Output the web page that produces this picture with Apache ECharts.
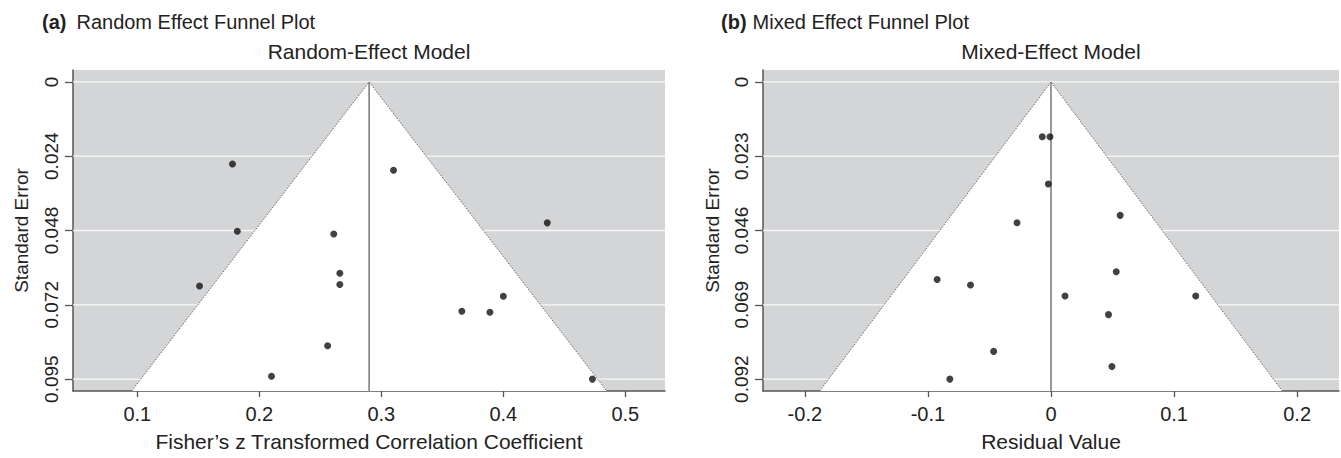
<!DOCTYPE html>
<html>
<head>
<meta charset="utf-8">
<script src="https://cdn.jsdelivr.net/npm/echarts@6/dist/echarts.min.js"></script>
<style>
html,body{margin:0;padding:0;background:#fff;}
#chart{width:1341px;height:458px;}
</style>
</head>
<body>
<div id="chart"></div>
<script>
// ---------- Data: (a) Random-effect model ----------
const reX  = [0.178, 0.182, 0.261, 0.151, 0.266, 0.266, 0.256, 0.210, 0.310, 0.436, 0.366, 0.389, 0.400, 0.473];
const reSE = [0.0264, 0.0480, 0.0489, 0.0656, 0.0615, 0.0651, 0.0848, 0.0946, 0.0284, 0.0453, 0.0737, 0.0740, 0.0689, 0.0955];
const reEstimate = 0.29;
const reXTicks  = [0.1, 0.2, 0.3, 0.4, 0.5];
const reXLabels = ['0.1', '0.2', '0.3', '0.4', '0.5'];
const reSeTicks  = [0, 0.023875, 0.04775, 0.071625, 0.0955];
const reSeLabels = ['0', '0.024', '0.048', '0.072', '0.095'];

// ---------- Data: (b) Mixed-effect model ----------
const meX  = [-0.0276, -0.0071, -0.0008, -0.0022, 0.0562, -0.0925, -0.0654, -0.0466, -0.0822, 0.0530, 0.0114, 0.1176, 0.0467, 0.0495];
const meSE = [0.0437, 0.0170, 0.0170, 0.0317, 0.0414, 0.0613, 0.0630, 0.0836, 0.0922, 0.0589, 0.0664, 0.0664, 0.0722, 0.0883];
const meEstimate = 0;
const meXTicks  = [-0.2, -0.1, 0, 0.1, 0.2];
const meXLabels = ['-0.2', '-0.1', '0', '0.1', '0.2'];
const meSeTicks  = [0, 0.02305, 0.0461, 0.06915, 0.0922];
const meSeLabels = ['0', '0.023', '0.046', '0.069', '0.092'];

const Z = 1.96;

// axis ranges (plot limits)
const reXRange = [0.0473, 0.5325];
const reYRange = [-0.00382, 0.09932];
const meXRange = [-0.234, 0.234];
const meYRange = [-0.003688, 0.095888];

const FONT = 'Liberation Sans, Arial, Helvetica, sans-serif';
const TXT = '#222';
const AX = '#555';

function labelFor(ticks, labels) {
  return function (v) {
    let best = 0, d = Infinity;
    ticks.forEach((t, i) => { const dd = Math.abs(t - v); if (dd < d) { d = dd; best = i; } });
    return labels[best];
  };
}

function xAxisCfg(grid, range, ticks, labels, name) {
  return {
    gridIndex: grid, type: 'value', min: range[0], max: range[1],
    axisLine: { show: true, onZero: false, lineStyle: { color: AX, width: 1.5 } },
    axisTick: { show: true, length: 6, customValues: ticks, lineStyle: { color: AX, width: 1.3 } },
    axisLabel: { show: true, customValues: ticks, formatter: labelFor(ticks, labels),
      fontSize: 20, fontFamily: FONT, color: TXT, margin: 13 },
    splitLine: { show: false },
    name: name, nameLocation: 'middle', nameGap: 40,
    nameTextStyle: { fontSize: 21, fontFamily: FONT, color: TXT }
  };
}

function yAxisCfg(grid, range, ticks, labels, margin, nameGap) {
  return {
    gridIndex: grid, type: 'value', min: range[0], max: range[1], inverse: true,
    axisLine: { show: true, onZero: false, lineStyle: { color: AX, width: 1.5 } },
    axisTick: { show: true, length: 8, customValues: ticks, lineStyle: { color: AX, width: 1.3 } },
    axisLabel: { show: true, customValues: ticks, formatter: labelFor(ticks, labels), rotate: 90,
      fontSize: 19, fontFamily: FONT, color: TXT, margin: margin },
    splitLine: { show: false },
    name: 'Standard Error', nameLocation: 'middle', nameGap: nameGap,
    nameTextStyle: { fontSize: 19, fontFamily: FONT, color: TXT }
  };
}

function funnelSeries(idx, est, xRange, yRange, seTicks) {
  return {
    type: 'custom', xAxisIndex: idx, yAxisIndex: idx, silent: true, z: 1,
    data: [[est, 0]],
    renderItem: function (params, api) {
      const children = [];
      seTicks.forEach(function (t) {
        const a = api.coord([xRange[0], t]), b = api.coord([xRange[1], t]);
        children.push({ type: 'line', shape: { x1: a[0], y1: a[1], x2: b[0], y2: b[1] },
          style: { stroke: '#f7f7f7', lineWidth: 1.3 } });
      });
      const seB = yRange[1];
      const pL = api.coord([est - Z * seB, seB]);
      const pT = api.coord([est, 0]);
      const pR = api.coord([est + Z * seB, seB]);
      children.push({ type: 'polygon', shape: { points: [pL, pT, pR] }, style: { fill: '#ffffff' } });
      children.push({ type: 'polyline', shape: { points: [pL, pT, pR] },
        style: { stroke: '#666', lineWidth: 1, lineDash: [1.5, 1.5], fill: null } });
      const vb = api.coord([est, seB]);
      children.push({ type: 'line', shape: { x1: pT[0], y1: pT[1], x2: vb[0], y2: vb[1] },
        style: { stroke: '#777', lineWidth: 1.5 } });
      return { type: 'group', children: children };
    }
  };
}

function pts(xs, ys) { return xs.map((x, i) => [x, ys[i]]); }

const chart = echarts.init(document.getElementById('chart'), null, { renderer: 'svg' });

const option = {
  animation: false,
  backgroundColor: '#ffffff',
  grid: [
    { left: 73, top: 70, width: 592, height: 321, show: true, backgroundColor: '#d4d5d7', borderWidth: 0 },
    { left: 763, top: 70, width: 576, height: 321, show: true, backgroundColor: '#d4d5d7', borderWidth: 0 }
  ],
  xAxis: [
    xAxisCfg(0, reXRange, reXTicks, reXLabels, 'Fisher\u2019s z Transformed Correlation Coefficient'),
    xAxisCfg(1, meXRange, meXTicks, meXLabels, 'Residual Value')
  ],
  yAxis: [
    yAxisCfg(0, reYRange, reSeTicks, reSeLabels, 12, 42),
    yAxisCfg(1, meYRange, meSeTicks, meSeLabels, 12, 41)
  ],
  graphic: [
    { type: 'text', x: 42, y: 22, style: { text: '{b|(a)}Random Effect Funnel Plot',
        fontSize: 20, fontFamily: FONT, fill: TXT, verticalAlign: 'middle',
        rich: { b: { fontWeight: 'bold', fontSize: 20, fontFamily: FONT, fill: TXT, padding: [0, 10, 0, 0] } } } },
    { type: 'text', x: 369, y: 51, style: { text: 'Random-Effect Model', fontSize: 21, fontFamily: FONT,
        fill: TXT, align: 'center', verticalAlign: 'middle' } },
    { type: 'text', x: 721, y: 22, style: { text: '{b|(b)}Mixed Effect Funnel Plot',
        fontSize: 20, fontFamily: FONT, fill: TXT, verticalAlign: 'middle',
        rich: { b: { fontWeight: 'bold', fontSize: 20, fontFamily: FONT, fill: TXT, padding: [0, 6, 0, 0] } } } },
    { type: 'text', x: 1051, y: 51, style: { text: 'Mixed-Effect Model', fontSize: 21, fontFamily: FONT,
        fill: TXT, align: 'center', verticalAlign: 'middle' } }
  ],
  series: [
    funnelSeries(0, reEstimate, reXRange, reYRange, reSeTicks),
    funnelSeries(1, meEstimate, meXRange, meYRange, meSeTicks),
    { type: 'scatter', xAxisIndex: 0, yAxisIndex: 0, z: 3, symbol: 'circle', symbolSize: 7,
      itemStyle: { color: '#111' }, data: pts(reX, reSE) },
    { type: 'scatter', xAxisIndex: 1, yAxisIndex: 1, z: 3, symbol: 'circle', symbolSize: 7,
      itemStyle: { color: '#111' }, data: pts(meX, meSE) }
  ]
};
chart.setOption(option);
</script>
</body>
</html>
